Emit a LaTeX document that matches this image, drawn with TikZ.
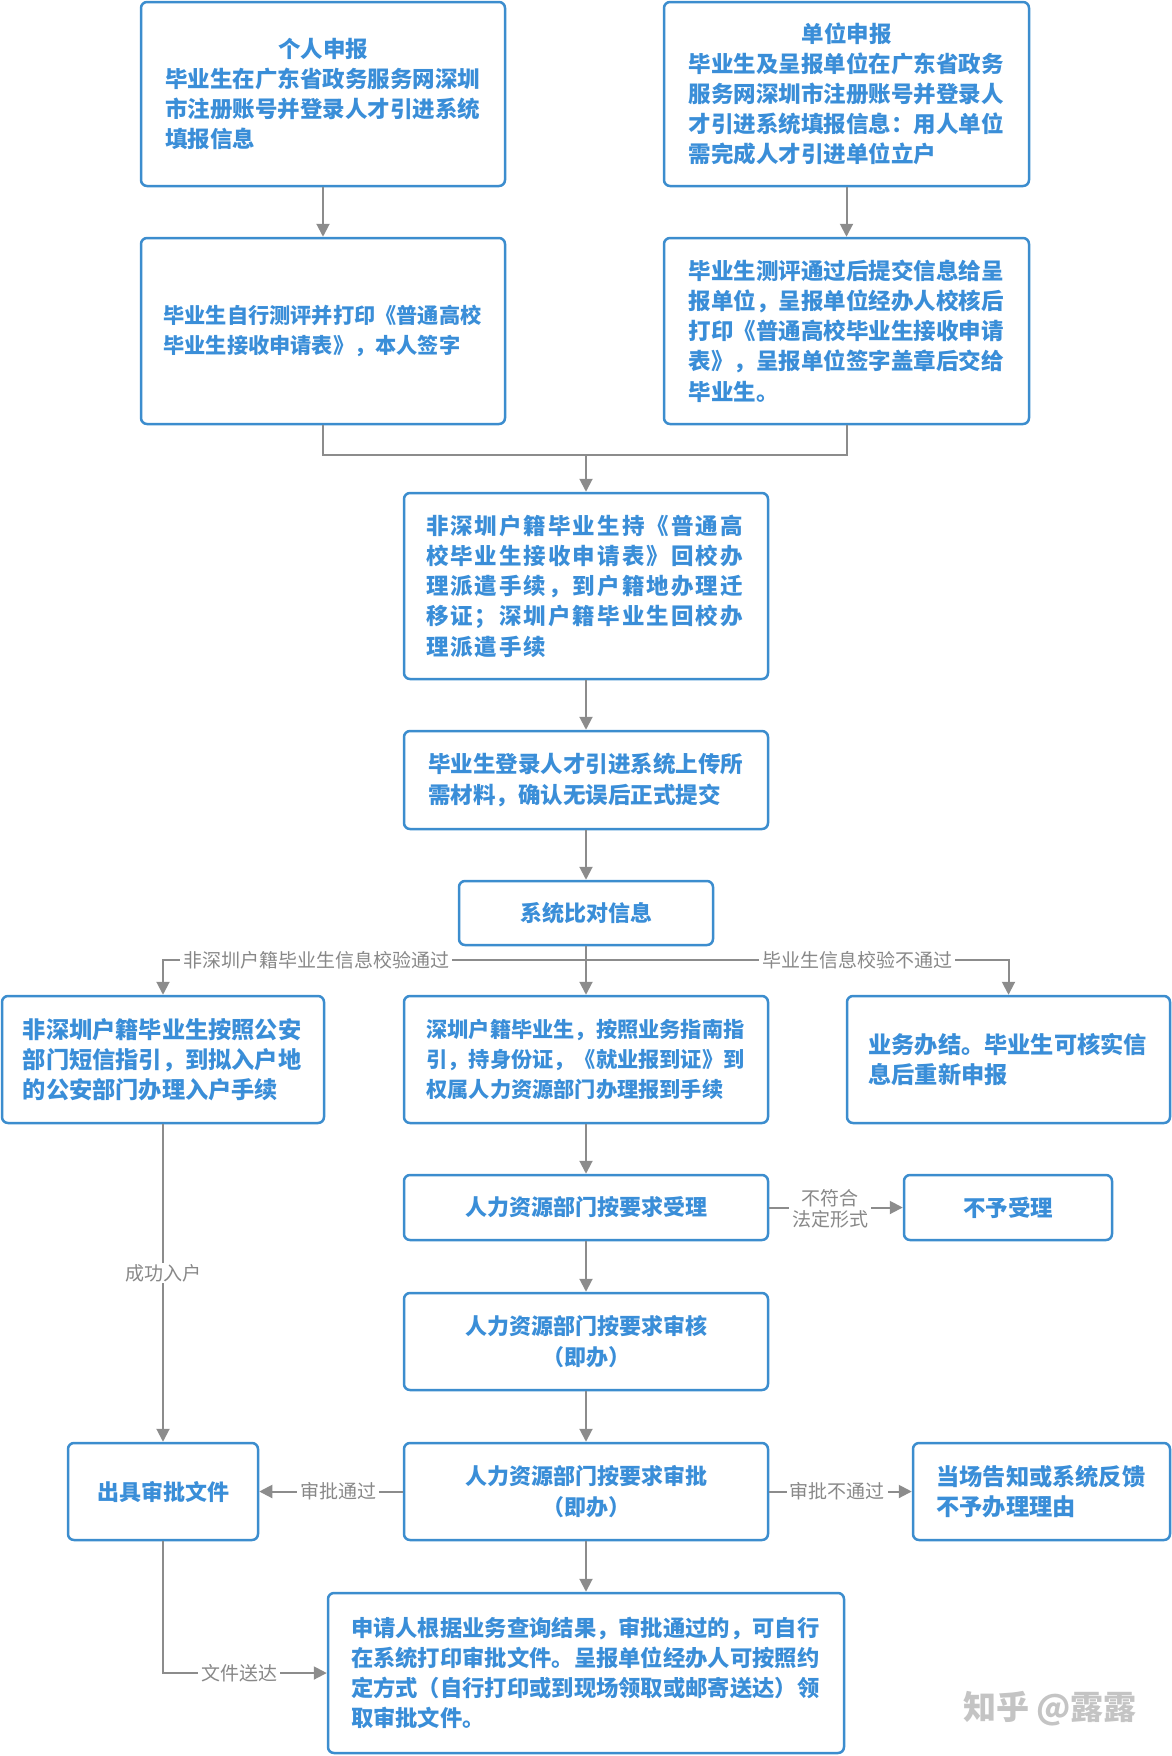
\documentclass[tikz,border=0pt]{standalone}
\usepackage{fontspec}
\setmainfont{Noto Sans CJK SC}
\usetikzlibrary{arrows.meta}
\definecolor{bd}{HTML}{3C8DCE}
\definecolor{tx}{HTML}{3A8ED8}
\definecolor{ln}{HTML}{8C8C8C}
\definecolor{lb}{HTML}{888888}
\definecolor{wm}{HTML}{C4C4C4}
\newcommand\bxf[1]{\fontsize{#1}{30.2}\selectfont\bfseries}
\tikzset{
  box/.style={draw=bd, line width=2.5pt, rounded corners=6pt, fill=white, text=tx, align=left, inner sep=0pt},
  cbox/.style={box, align=center},
  conn/.style={draw=ln, line width=2pt, -{Triangle[length=13pt,width=13pt]}},
  plain/.style={draw=ln, line width=2pt},
  lbl/.style={fill=white, text=lb, font=\fontsize{19}{21}\selectfont, inner xsep=3pt, inner ysep=1pt, align=center},
}
\begin{document}
\begin{tikzpicture}[x=1pt,y=-1pt]
\useasboundingbox (0,0) rectangle (1172,1756);
% boxes
\node[box, minimum width=364pt, minimum height=184pt, text width=316pt, font=\bxf{22.5}] (A) at (323,94)
  {{\centering 个人申报\par}毕业生在广东省政务服务网深圳\\市注册账号并登录人才引进系统\\填报信息};
\node[box, minimum width=365pt, minimum height=184pt, text width=316pt, font=\bxf{22.5}] (B) at (846.5,94)
  {{\centering 单位申报\par}毕业生及呈报单位在广东省政务\\服务网深圳市注册账号并登录人\\才引进系统填报信息：用人单位\\需完成人才引进单位立户};
\node[box, minimum width=364pt, minimum height=186pt, text width=319pt, font=\bxf{21.2}] (C) at (323,331)
  {毕业生自行测评并打印《普通高校\\毕业生接收申请表》，本人签字};
\node[box, minimum width=365pt, minimum height=186pt, text width=316pt, font=\bxf{22.5}] (D) at (846.5,331)
  {毕业生测评通过后提交信息给呈\\报单位，呈报单位经办人校核后\\打印《普通高校毕业生接收申请\\表》，呈报单位签字盖章后交给\\毕业生。};
\node[box, minimum width=364pt, minimum height=186pt, text width=320pt, font=\bxf{22.5}\addfontfeatures{LetterSpace=8.9}] (E) at (586,586)
  {非深圳户籍毕业生持《普通高\\校毕业生接收申请表》回校办\\理派遣手续，到户籍地办理迁\\移证；深圳户籍毕业生回校办\\理派遣手续};
\node[box, minimum width=364pt, minimum height=98pt, text width=316pt, font=\bxf{22.5}] (F) at (586,780)
  {毕业生登录人才引进系统上传所\\需材料，确认无误后正式提交};
\node[cbox, minimum width=254pt, minimum height=64pt, font=\bxf{22}] (G) at (586,913) {系统比对信息};
\node[box, minimum width=322pt, minimum height=127pt, text width=280pt, font=\bxf{23.2}] (H) at (163,1059.5)
  {非深圳户籍毕业生按照公安\\部门短信指引，到拟入户地\\的公安部门办理入户手续};
\node[box, minimum width=364pt, minimum height=127pt, text width=319pt, font=\bxf{21.2}] (I) at (586,1059.5)
  {深圳户籍毕业生，按照业务指南指\\引，持身份证，《就业报到证》到\\权属人力资源部门办理报到手续};
\node[box, minimum width=323pt, minimum height=127pt, text width=280pt, font=\bxf{23.2}] (J) at (1008.5,1059.5)
  {业务办结。毕业生可核实信\\息后重新申报};
\node[cbox, minimum width=364pt, minimum height=65pt, font=\bxf{22}] (K) at (586,1207.5) {人力资源部门按要求受理};
\node[cbox, minimum width=208pt, minimum height=65pt, font=\bxf{22.5}] (L) at (1008,1207.5) {不予受理};
\node[cbox, minimum width=364pt, minimum height=97pt, font=\bxf{22}] (M) at (586,1341.5) {人力资源部门按要求审核\\（即办）};
\node[cbox, minimum width=190pt, minimum height=97pt, font=\bxf{22}] (N) at (163,1491.5) {出具审批文件};
\node[cbox, minimum width=364pt, minimum height=97pt, font=\bxf{22}] (O) at (586,1491.5) {人力资源部门按要求审批\\（即办）};
\node[box, minimum width=257pt, minimum height=97pt, text width=210pt, font=\bxf{23.2}] (P) at (1041.5,1491.5)
  {当场告知或系统反馈\\不予办理理由};
\node[box, minimum width=516pt, minimum height=160pt, text width=470pt, font=\bxf{22.3}] (Q) at (586,1673)
  {申请人根据业务查询结果，审批通过的，可自行\\在系统打印审批文件。呈报单位经办人可按照约\\定方式（自行打印或到现场领取或邮寄送达）领\\取审批文件。};
% connectors
\coordinate (mg) at (586,455);
\coordinate (br) at (586,960);
\draw[conn] (A.south) -- (C.north);
\draw[conn] (B.south) -- (D.north);
\draw[plain] (C.south) |- (mg);
\draw[plain] (D.south) |- (mg);
\draw[conn] (mg) -- (E.north);
\draw[conn] (E) -- (F);
\draw[conn] (F) -- (G);
\draw[conn] (G) -- (I);
\draw[conn] (br) -| (H.north);
\draw[conn] (br) -| (J.north);
\draw[conn] (I) -- (K);
\draw[conn] (K) -- (L);
\draw[conn] (K) -- (M);
\draw[conn] (M) -- (O);
\draw[conn] (O) -- (Q);
\draw[conn] (H) -- (N);
\draw[conn] (O) -- (N);
\draw[conn] (O) -- (P);
\draw[conn] (N.south) |- (Q.west);
% labels
\node[lbl] (l1) at (316,960) {非深圳户籍毕业生信息校验通过};
\node[lbl] (l2) at (857,960) {毕业生信息校验不通过};
\node[lbl] (l3) at (830,1209) {不符合\\法定形式};
\node[lbl] (l4) at (163,1273) {成功入户};
\node[lbl] (l5) at (338,1491.5) {审批通过};
\node[lbl] (l6) at (837,1491.5) {审批不通过};
\node[lbl] (l7) at (239,1673) {文件送达};
\node[text=wm, font=\fontsize{33}{33}\selectfont\bfseries] (wmk) at (1050,1709) {知乎 @露露};
\end{tikzpicture}
\end{document}
